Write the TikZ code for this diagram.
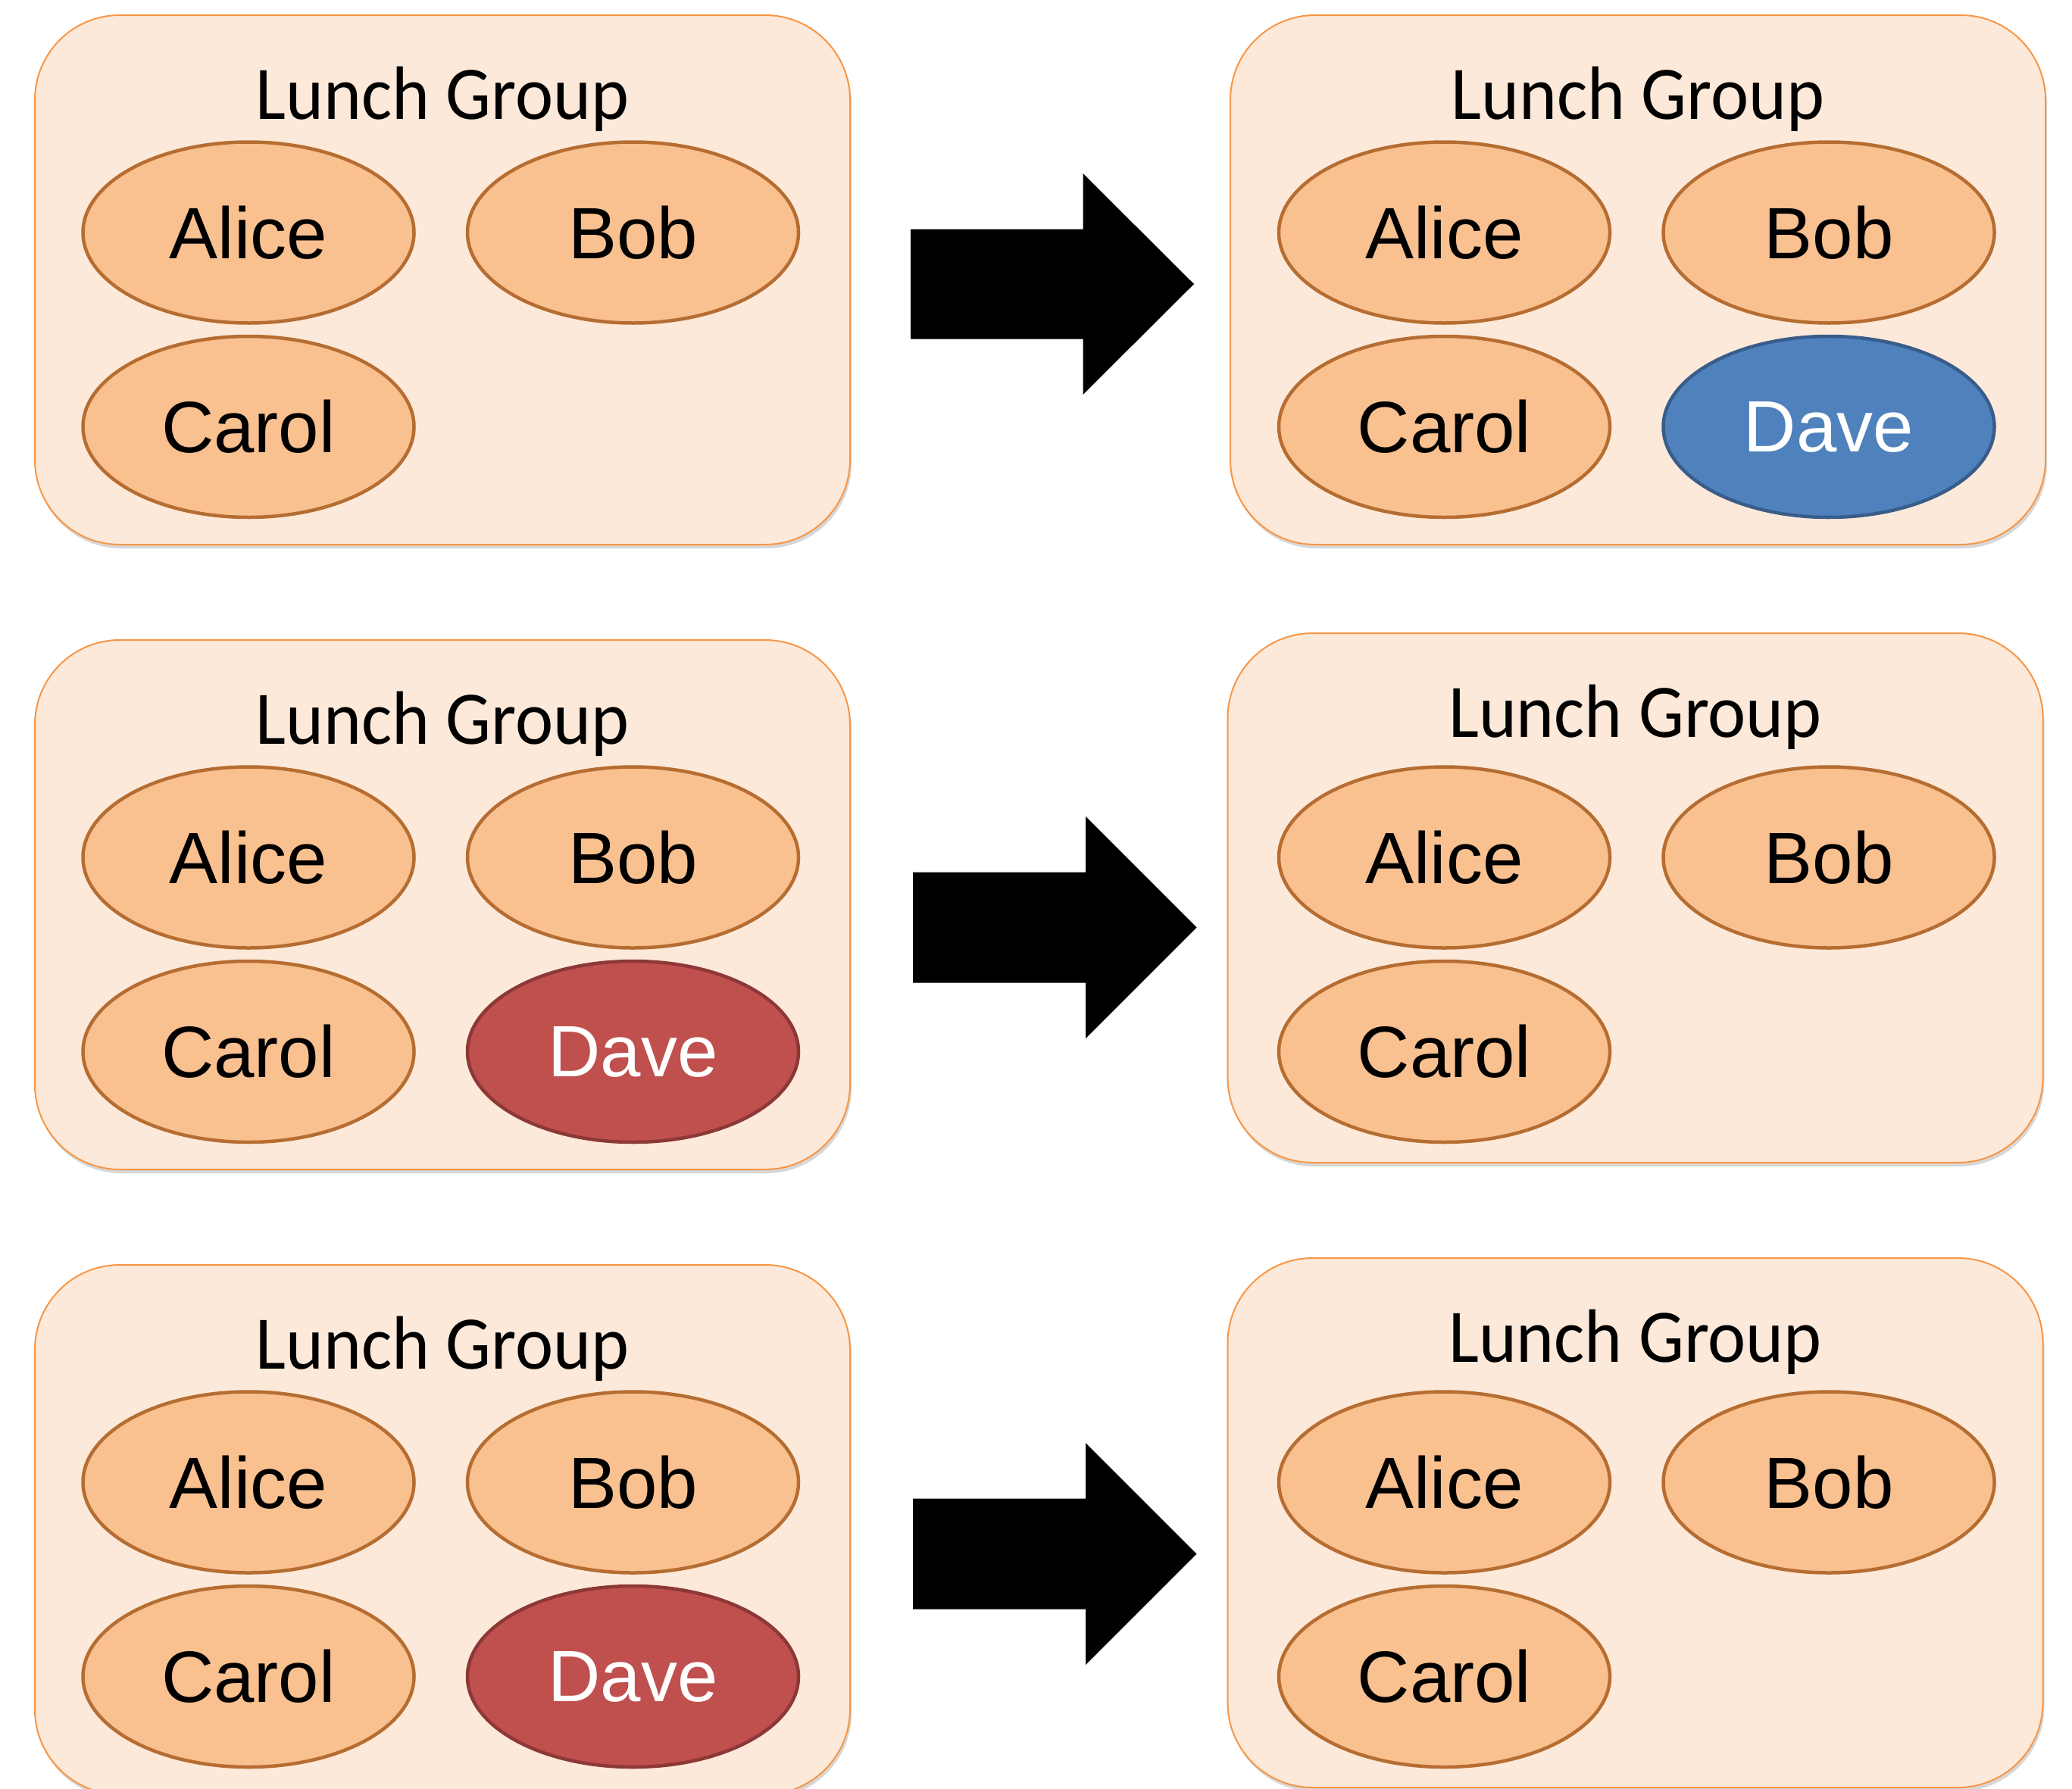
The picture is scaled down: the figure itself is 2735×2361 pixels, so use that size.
\documentclass[tikz,border=0pt]{standalone}
\usepackage{fontspec}
\newfontfamily\namefont{Liberation Sans}
\newfontfamily\titlefont[FakeStretch=0.95]{Carlito}
\usetikzlibrary{shapes.geometric,shadows}
\definecolor{boxfill}{HTML}{FDE9D9}
\definecolor{boxline}{HTML}{F79646}
\definecolor{memfill}{HTML}{F9C090}
\definecolor{memline}{HTML}{B66D31}
\definecolor{addfill}{HTML}{4F81BD}
\definecolor{addline}{HTML}{385D8A}
\definecolor{remfill}{HTML}{C0504D}
\definecolor{remline}{HTML}{8C3836}
\begin{document}
\begin{tikzpicture}[x=1pt,y=-1pt,
  groupbox/.style={draw=boxline, line width=2pt, fill=boxfill, rounded corners=112pt,
    minimum width=1076pt, minimum height=699pt, inner sep=0pt,
    drop shadow={shadow xshift=2pt, shadow yshift=-5pt, opacity=0.22, fill=black!70}},
  member/.style={ellipse, draw=memline, fill=memfill, line width=4.5pt,
    minimum width=437pt, minimum height=239pt, inner sep=0pt,
    font=\namefont\fontsize{96}{96}\selectfont, text=black},
  added/.style={member, draw=addline, fill=addfill, text=white},
  removed/.style={member, draw=remline, fill=remfill, text=white},
  grouptitle/.style={anchor=base, inner sep=0pt, font=\titlefont\fontsize{100}{100}\selectfont},
  bigarrow/.style={fill=black}]
\fill[white] (0,0) rectangle (2735,2361);
\useasboundingbox (0,0) rectangle (2735,2361);

% ---------- Row 1 ----------
\node[groupbox] (g1L) at (584,369.5) {};
\node[grouptitle] (t1L) at (584,157) {Lunch Group};
\node[member] (a1L) at (328,307) {Alice};
\node[member] (b1L) at (835.5,307) {Bob};
\node[member] (c1L) at (328,563.5) {Carol};

\fill[bigarrow] (1202,302.5) -- (1429.5,302.5) -- (1429.5,229) -- (1576,375)
  -- (1429.5,521) -- (1429.5,447.5) -- (1202,447.5) -- cycle;

\node[groupbox] (g1R) at (2162,369.5) {};
\node[grouptitle] (t1R) at (2162,157) {Lunch Group};
\node[member] (a1R) at (1906.5,307) {Alice};
\node[member] (b1R) at (2414,307) {Bob};
\node[member] (c1R) at (1906.5,563.5) {Carol};
\node[added] (d1R) at (2414,563.5) {Dave};

% ---------- Row 2 ----------
\node[groupbox] (g2L) at (584,1194.5) {};
\node[grouptitle] (t2L) at (584,982) {Lunch Group};
\node[member] (a2L) at (328,1132) {Alice};
\node[member] (b2L) at (835.5,1132) {Bob};
\node[member] (c2L) at (328,1388.5) {Carol};
\node[removed] (d2L) at (835.5,1388.5) {Dave};

\fill[bigarrow] (1205,1151.5) -- (1433,1151.5) -- (1433,1078) -- (1579.5,1224.5)
  -- (1433,1371) -- (1433,1297.5) -- (1205,1297.5) -- cycle;

\node[groupbox] (g2R) at (2158.5,1185.5) {};
\node[grouptitle] (t2R) at (2158.5,973) {Lunch Group};
\node[member] (a2R) at (1906.5,1132) {Alice};
\node[member] (b2R) at (2414,1132) {Bob};
\node[member] (c2R) at (1906.5,1388.5) {Carol};

% ---------- Row 3 ----------
\node[groupbox] (g3L) at (584,2019.5) {};
\node[grouptitle] (t3L) at (584,1807) {Lunch Group};
\node[member] (a3L) at (328,1957) {Alice};
\node[member] (b3L) at (835.5,1957) {Bob};
\node[member] (c3L) at (328,2213.5) {Carol};
\node[removed] (d3L) at (835.5,2213.5) {Dave};

\fill[bigarrow] (1205,1978.5) -- (1433,1978.5) -- (1433,1905) -- (1579.5,2051.5)
  -- (1433,2198) -- (1433,2124.5) -- (1205,2124.5) -- cycle;

\node[groupbox] (g3R) at (2158.5,2010.5) {};
\node[grouptitle] (t3R) at (2158.5,1798) {Lunch Group};
\node[member] (a3R) at (1906.5,1957) {Alice};
\node[member] (b3R) at (2414,1957) {Bob};
\node[member] (c3R) at (1906.5,2213.5) {Carol};
\end{tikzpicture}
\end{document}
